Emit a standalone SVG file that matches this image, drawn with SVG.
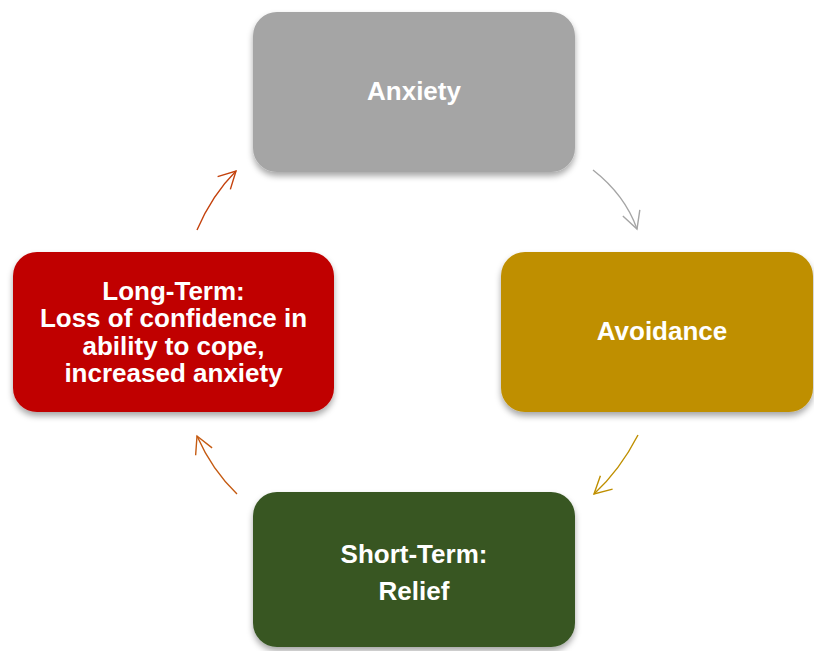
<svg xmlns="http://www.w3.org/2000/svg" width="814" height="651" viewBox="0 0 814 651">
  <defs>
    <filter id="shadow" x="-10%" y="-10%" width="120%" height="130%">
      <feDropShadow dx="0" dy="4" stdDeviation="3" flood-color="#000" flood-opacity="0.35"/>
    </filter>
    <marker id="ah-gray" markerUnits="userSpaceOnUse" markerWidth="24" markerHeight="24" viewBox="-20 -12 24 24" refX="0" refY="0" orient="auto">
      <path d="M-17,-9 L0,0 L-17,9" fill="none" stroke="#A5A5A5" stroke-width="1.4"/>
    </marker>
    <marker id="ah-gold" markerUnits="userSpaceOnUse" markerWidth="24" markerHeight="24" viewBox="-20 -12 24 24" refX="0" refY="0" orient="auto">
      <path d="M-17,-9 L0,0 L-17,9" fill="none" stroke="#BF8F00" stroke-width="1.4"/>
    </marker>
    <marker id="ah-orange" markerUnits="userSpaceOnUse" markerWidth="24" markerHeight="24" viewBox="-20 -12 24 24" refX="0" refY="0" orient="auto">
      <path d="M-17,-9 L0,0 L-17,9" fill="none" stroke="#C55A11" stroke-width="1.4"/>
    </marker>
    <marker id="ah-red" markerUnits="userSpaceOnUse" markerWidth="24" markerHeight="24" viewBox="-20 -12 24 24" refX="0" refY="0" orient="auto">
      <path d="M-17,-9 L0,0 L-17,9" fill="none" stroke="#C4410C" stroke-width="1.4"/>
    </marker>
  </defs>
  <style>
    .box { filter: url(#shadow); }
    .lbl { font-family: "Liberation Sans", Arial, sans-serif; font-weight: bold; font-size: 26px; fill: #FFFFFF; text-anchor: middle; }
    .conn { fill: none; stroke-width: 1.4; }
  </style>
  <rect width="814" height="651" fill="#FFFFFF"/>

  <g id="node-anxiety">
    <rect class="box" x="253" y="12" width="322" height="160" rx="24" fill="#A5A5A5"/>
    <text class="lbl" x="414" y="100">Anxiety</text>
  </g>

  <g id="node-avoidance">
    <rect class="box" x="501" y="252" width="312" height="160" rx="24" fill="#BF8F00"/>
    <text class="lbl" x="662" y="340">Avoidance</text>
  </g>

  <g id="node-shortterm">
    <rect class="box" x="253" y="492" width="322" height="155" rx="24" fill="#375623"/>
    <text class="lbl" x="414" y="563">Short-Term:</text>
    <text class="lbl" x="414" y="600">Relief</text>
  </g>

  <g id="node-longterm">
    <rect class="box" x="13" y="252" width="321" height="160" rx="24" fill="#C00000"/>
    <text class="lbl" x="173.5" y="300">Long-Term:</text>
    <text class="lbl" x="173.5" y="327">Loss of confidence in</text>
    <text class="lbl" x="173.5" y="355">ability to cope,</text>
    <text class="lbl" x="173.5" y="382">increased anxiety</text>
  </g>

  <g id="connectors">
    <path class="conn" d="M593,170 Q625,195 637,229" stroke="#A5A5A5" marker-end="url(#ah-gray)"/>
    <path class="conn" d="M638,435 Q620,470 594,494" stroke="#BF8F00" marker-end="url(#ah-gold)"/>
    <path class="conn" d="M237,494 Q212,470 197,436" stroke="#C55A11" marker-end="url(#ah-orange)"/>
    <path class="conn" d="M197,230 Q212,195 236,171" stroke="#C4410C" marker-end="url(#ah-red)"/>
  </g>
</svg>
